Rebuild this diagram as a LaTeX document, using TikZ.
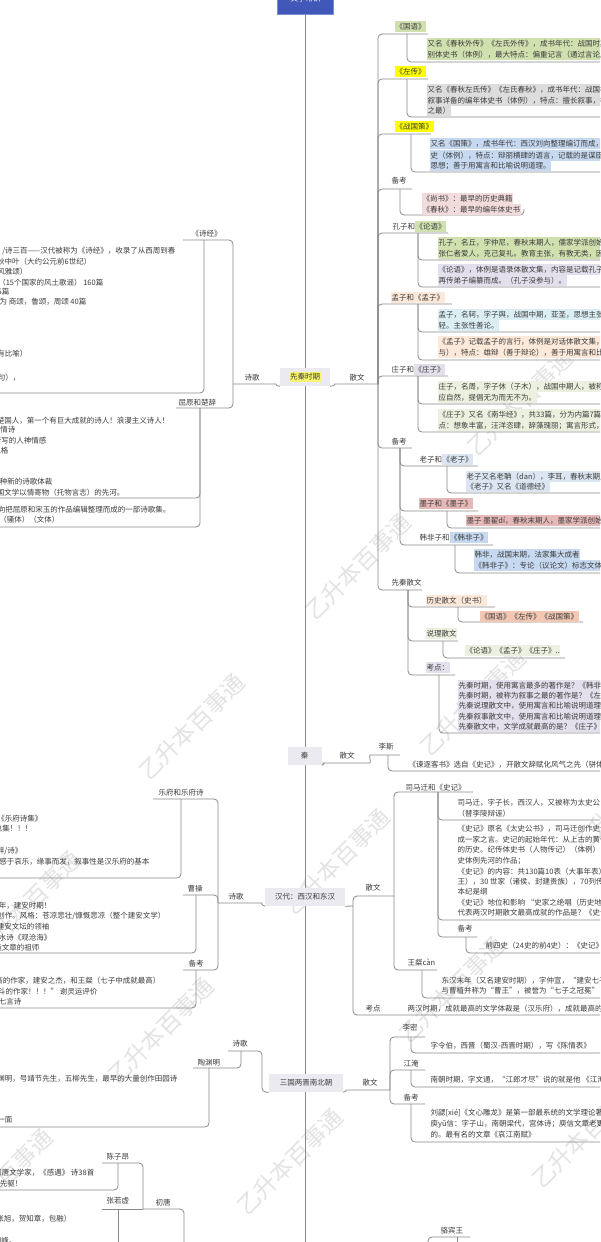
\documentclass[tikz,border=0pt]{standalone}
\usepackage{fontspec}
\setmainfont{Noto Sans CJK SC}
\definecolor{lc}{RGB}{138,138,138}
\definecolor{tc}{RGB}{60,60,60}
\definecolor{topicbg}{RGB}{234,234,240}
\definecolor{rootbg}{RGB}{66,88,184}
\definecolor{rootbd}{RGB}{120,140,215}
\definecolor{cGr}{RGB}{208,224,175}
\definecolor{cGy}{RGB}{221,221,221}
\definecolor{cBl}{RGB}{198,217,241}
\definecolor{cPk}{RGB}{242,220,219}
\definecolor{cLv}{RGB}{228,223,236}
\definecolor{cSk}{RGB}{219,238,244}
\definecolor{cPe}{RGB}{253,233,217}
\definecolor{cOl}{RGB}{235,241,222}
\definecolor{cLb}{RGB}{220,230,242}
\definecolor{cRo}{RGB}{230,185,184}
\definecolor{cSa}{RGB}{242,200,180}
\definecolor{hlY}{RGB}{255,255,0}
\definecolor{hlS}{RGB}{250,245,110}
\newcounter{lnc}
\newcommand\hl[2]{{\setlength{\fboxsep}{0.5pt}\colorbox{#1}{\vrule width0pt height7.5pt depth2.3pt\relax #2}}}
\newcommand\LW[4]{\stepcounter{lnc}\edef\lnname{w\arabic{lnc}}\node[tx,fill=#1,anchor=base west,name=\lnname] at (#2,#3+3) {#4};}
\newcommand\LE[4]{\stepcounter{lnc}\edef\lnname{e\arabic{lnc}}\node[tx,fill=#1,anchor=base east,name=\lnname] at (#2,#3+3) {#4};}
\newcommand\LB[5]{\node[tx,fill=#2,anchor=base west] (#1) at (#3,#4+3) {#5};}
\begin{document}
\begin{tikzpicture}[x=1pt,y=-1pt,
  font=\fontsize{7.5pt}{10pt}\selectfont,
  tx/.style={text=tc,inner xsep=0.5pt,inner ysep=0.5pt,text height=7.5pt,text depth=2.3pt},
  conn/.style={draw=lc,line width=0.8pt,rounded corners=4pt},
  topic/.style={fill=topicbg,text=tc,minimum height=18pt,inner sep=0pt},
  wm/.style={text=black!11,font=\fontsize{23pt}{23pt}\selectfont,rotate=45,inner sep=0pt}]
\useasboundingbox (0,0) rectangle (600,1242);
\clip (0,0) rectangle (600,1242);
\fill[white] (0,0) rectangle (600,1242);
% watermarks
\foreach \wx/\wy [count=\i] in {520/403, 358/567, 473/703, 192/727, 337/862, 28/904, 625/800, 452/990, 161/1031, 290/1162, 0/1182, 585/1135}
  \node[wm] (wm\i) at (\wx,\wy) {乙升本百事通};
% root and spine
\node[fill=rootbg,draw=rootbd,line width=0.6pt,minimum width=56pt,minimum height=15pt,inner sep=0pt] (root) at (305.5,7) {};
\node[text=white,inner sep=0pt] (roott) at (305.5,-1) {文学常识};
\draw[conn] (root.south) -- (305.5,1250);
% topics
\node[topic,minimum width=50pt] (xq) at (305,377) {\hl{hlS}{先秦时期}};
\node[topic,minimum width=34pt] (qin) at (304.5,756) {秦};
\node[topic,minimum width=80pt] (han) at (305,897) {汉代：西汉和东汉};
\node[topic,minimum width=74pt] (sg) at (306,1083) {三国两晋南北朝};

% ===== 先秦 right: 散文 =====
\LB{xqsw}{none}{349}{377}{散文}
\coordinate (sw1) at (378,384);
\draw[conn] (xq.south east) to[out=0,in=180] (339,384) -- (sw1);
\foreach \yy/\xe in {34/428, 79/428, 134/431, 189/412, 233/448, 304/452, 376/448, 448/412, 590/422}
  \draw[conn] (sw1) -- (378,\yy) -- (\xe,\yy);
\LB{gy}{cGr}{395}{26}{《国语》}
\LB{zz}{hlY}{395}{71}{《左传》}
\LB{zgc}{hlY}{395}{126}{《战国策》}
\LB{bk1}{none}{391}{180}{备考}
\LB{kz}{none}{392}{226}{孔子和\hl{cGr}{《论语》}}
\LB{mz}{cPe}{391}{297}{孟子和《孟子》}
\LB{zhz}{none}{391}{369}{庄子和\hl{cLv}{《庄子》}}
\LB{bk2}{none}{391}{441}{备考}
\LB{xqsw2}{none}{391}{582}{先秦散文}
% contents
\draw[conn] (407,34) -- (407,62) -- (600,62);
\draw[conn] (407,79) -- (407,117) -- (600,117);
\draw[conn] (411,134) -- (411,172) -- (600,172);
\draw[conn] (400,189) -- (400,215) -- (524,215) -- (524,209);
\draw[conn] (418,233) -- (418,260) -- (600,260);
\draw[conn] (418,233) -- (418,287) -- (600,287);
\draw[conn] (418,304) -- (418,332) -- (600,332);
\draw[conn] (418,304) -- (418,360) -- (600,360);
\draw[conn] (418,376) -- (418,404) -- (600,404);
\draw[conn] (418,376) -- (418,432) -- (600,432);
\LW{cGr}{427}{43}{又名《春秋外传》《左氏外传》，成书年代：战国时期}
\LW{cGr}{427}{54}{别体史书（体例），最大特点：偏重记言（通过言论反映}
\LW{cGy}{427}{89}{又名《春秋左氏传》《左氏春秋》，成书年代：战国初期}
\LW{cGy}{427}{100}{叙事详备的编年体史书（体例），特点：擅长叙事，被誉为}
\LW{cGy}{427}{110}{之最）}
\LW{cBl}{430}{143}{又名《国策》，成书年代：西汉刘向整理编订而成，国别体}
\LW{cBl}{430}{155}{史（体例），特点：辩丽横肆的语言，记载的是谋臣策士的}
\LW{cBl}{430}{165}{思想；善于用寓言和比喻说明道理。}
\LW{cPk}{422}{198}{《尚书》：最早的历史典籍}
\LW{cPk}{422}{209}{《春秋》：最早的编年体史书}
\LW{cGr}{438}{242}{孔子，名丘，字仲尼，春秋末期人，儒家学派创始人，思想主}
\LW{cGr}{438}{253}{张仁者爱人，克己复礼。教育主张，有教无类，因材施教}
\LW{cLv}{438}{269}{《论语》，体例是语录体散文集，内容是记载孔子及其弟子}
\LW{cLv}{438}{280}{再传弟子编纂而成。（孔子没参与）。}
\LW{cSk}{438}{314}{孟子，名轲，字子舆，战国中期，亚圣，思想主张民贵君}
\LW{cSk}{438}{325}{轻。主张性善论。}
\LW{cPe}{438}{341}{《孟子》记载孟子的言行，体例是对话体散文集，（孟子参}
\LW{cPe}{438}{352}{与），特点：雄辩（善于辩论），善于用寓言和比喻说理}
\LW{cOl}{438}{386}{庄子，名周，字子休（子木），战国中期人，被称为南华真人}
\LW{cOl}{438}{397}{应自然，提倡无为而无不为。}
\LW{cOl}{438}{414}{《庄子》又名《南华经》，共33篇，分为内篇7篇，外篇}
\LW{cOl}{438}{425}{点：想象丰富，汪洋恣肆，辞藻瑰丽；寓言形式，浪漫}
% 备考 (2)
\draw[conn] (400,448) -- (400,466) -- (478,466);
\draw[conn] (400,448) -- (400,511) -- (478,511);
\draw[conn] (400,448) -- (400,545) -- (493,545);
\LB{lz}{none}{419}{459}{老子和\hl{cLb}{《老子》}}
\LB{moz}{cRo}{419}{503}{墨子和《墨子》}
\LB{hfz}{none}{419}{537}{韩非子和\hl{cBl}{《韩非子》}}
\draw[conn] (447,466) -- (447,493) -- (600,493);
\draw[conn] (447,511) -- (447,528) -- (600,528);
\draw[conn] (455,545) -- (455,573) -- (600,573);
\LW{cLb}{466}{476}{老子又名老聃（dan），李耳，春秋末期人，道家}
\LW{cLb}{466}{486}{《老子》又名《道德经》}
\LW{cRo}{466}{520}{墨子 墨翟dí，春秋末期人，墨家学派创始人}
\LW{cBl}{474}{554}{韩非，战国末期，法家集大成者}
\LW{cBl}{474}{565}{《韩非子》：专论（议论文）标志文体的成熟}
% 先秦散文
\draw[conn] (408,590) -- (408,607) -- (495,607);
\draw[conn] (408,590) -- (408,641) -- (458,641);
\draw[conn] (408,590) -- (408,675) -- (455,675);
\LB{lssw}{cPe}{426}{600}{历史散文（史书）}
\LB{slsw}{cOl}{426}{633}{说理散文}
\LB{kd1}{cLv}{426}{667}{考点：}
\draw[conn] (458,607) -- (458,622) -- (583,622);
\draw[conn] (443,641) -- (443,658) -- (565,658);
\draw[conn] (439,675) -- (439,733) -- (600,733);
\LW{cSa}{480}{616}{《国语》《左传》《战国策》}
\LW{cOl}{465}{650}{《论语》《孟子》《庄子》..}
\LW{cLv}{458}{685}{先秦时期，使用寓言最多的著作是？《韩非子》}
\LW{cLv}{458}{695}{先秦时期，被称为叙事之最的著作是？《左传》}
\LW{cLv}{458}{705}{先秦说理散文中，使用寓言和比喻说明道理的}
\LW{cLv}{458}{716}{先秦叙事散文中，使用寓言和比喻说明道理的}
\LW{cLv}{458}{726}{先秦散文中，文学成就最高的是？《庄子》}

% ===== 先秦 left: 诗歌 =====
\LB{xqsg}{none}{244}{377}{诗歌}
\coordinate (sw2) at (233,384);
\draw[conn] (xq.south west) to[out=180,in=0] (272,384) -- (sw2);
\draw[conn] (sw2) -- (233,240) -- (183,240);
\draw[conn] (sw2) -- (233,408) -- (176,408);
\LB{sj}{none}{191}{233}{《诗经》}
\LB{qy}{none}{178}{402}{屈原和楚辞}
\draw[conn] (204,240) -- (204,393) -- (-10,393);
\draw[conn] (200,408) -- (200,498) -- (-10,498);
\draw[conn] (200,408) -- (200,527) -- (-10,527);
\LE{none}{176}{250}{《诗》/诗三百——汉代被称为《诗经》，收录了从西周到春}
\LE{none}{92}{261}{春秋中叶（大约公元前6世纪）}
\LE{none}{28}{271}{（风雅颂）}
\LE{none}{104}{282}{国风（15个国家的风土歌谣） 160篇}
\LE{none}{10}{291}{雅 105篇}
\LE{none}{87}{301}{颂分为 商颂，鲁颂，周颂  40篇}
\LE{none}{28}{353}{（比：有比喻）}
\LE{none}{21}{377}{（四言句），}
\LE{none}{170}{420}{屈原，战国时期楚国人，第一个有巨大成就的诗人！浪漫主义诗人！}
\LE{none}{16}{429}{抒情诗}
\LE{none}{47}{440}{所写的人神情感}
\LE{none}{9}{450}{风格}
\LE{none}{53}{481}{一种新的诗歌体裁}
\LE{none}{125}{492}{开创中国文学以情寄物（托物言志）的先河。}
\LE{none}{171}{509}{西汉刘向把屈原和宋玉的作品编辑整理而成的一部诗歌集。}
\LE{none}{60}{519}{楚辞体（骚体）（文体）}

% ===== 秦 =====
\LB{qsw}{none}{339}{755}{散文}
\LB{ls}{none}{378}{746}{李斯}
\draw[conn] (qin.south east) to[out=0,in=180] (327,763) -- (366,763) .. controls (371,763) and (369,755) .. (374,755) -- (400,755);
\draw[conn] (388,755) -- (388,771) -- (600,771);
\LW{none}{408}{764}{《谏逐客书》选自《史记》，开散文辞赋化风气之先（骈体文}

% ===== 汉 right =====
\draw[conn] (han.south east) -- (353,906);
\draw[conn] (353,906) -- (353,896) -- (394,896);
\draw[conn] (353,906) -- (353,1015) -- (600,1015);
\LB{hsw}{none}{365}{887}{散文}
\LB{hkd}{none}{365}{1008}{考点}
\LW{none}{407}{1008}{两汉时期，成就最高的文学体裁是（汉乐府），成就最高的散文}
\draw[conn] (394,896) -- (394,792) -- (473,792);
\draw[conn] (394,896) -- (394,970) -- (437,970);
\LB{smq}{none}{405}{787}{司马迁和《史记》}
\LB{wc}{none}{407}{962}{王粲càn}
\draw[conn] (438,792) -- (438,820) -- (600,820);
\draw[conn] (438,792) -- (438,920) -- (600,920);
\draw[conn] (438,792) -- (438,937) -- (477,937);
\LB{bk3}{none}{457}{928}{备考}
\draw[conn] (466,937) -- (466,953) -- (600,953);
\draw[conn] (422,970) -- (422,998) -- (600,998);
\LW{none}{457}{802}{司马迁，字子长，西汉人，又被称为太史公，受宫刑}
\LW{none}{457}{813}{（替李陵辩诬）}
\LW{none}{457}{828}{《史记》原名《太史公书》，司马迁创作史记是为了}
\LW{none}{457}{839}{成一家之言。史记的起始年代：从上古的黄帝到汉武帝}
\LW{none}{457}{849}{的历史。纪传体史书（人物传记）（体例），开创纪传体}
\LW{none}{457}{860}{史体例先河的作品；}
\LW{none}{457}{871}{《史记》的内容：共130篇10表（大事年表），12本纪（帝}
\LW{none}{457}{881}{王），30 世家（诸侯、封建贵族），70列传（人物）}
\LW{none}{457}{891}{本纪是纲}
\LW{none}{457}{902}{《史记》地位和影响 “史家之绝唱（历史地位）}
\LW{none}{457}{912}{代表两汉时期散文最高成就的作品是？《史记》}
\LW{none}{485}{945}{前四史（24史的前4史）：《史记》《汉书》}
\LW{none}{441}{980}{东汉末年（又名建安时期），字仲宣，“建安七子”之一}
\LW{none}{441}{990}{与曹植并称为“曹王”，被誉为“七子之冠冕”}

% ===== 汉 left =====
\LB{hsg}{none}{228}{896}{诗歌}
\draw[conn] (han.south west) to[out=180,in=0] (258,903) -- (218,903);
\draw[conn] (218,903) -- (218,799) -- (153,799);
\draw[conn] (218,903) -- (218,895) -- (183,895);
\draw[conn] (218,903) -- (218,970) -- (183,970);
\LB{yf}{none}{158}{792}{乐府和乐府诗}
\LB{cc}{none}{187}{888}{曹操}
\LB{bk4}{none}{188}{963}{备考}
\draw[conn] (181,799) -- (181,878) -- (-10,878);
\draw[conn] (196,895) -- (196,953) -- (-10,953);
\draw[conn] (196,970) -- (196,1008) -- (-10,1008);
\LE{none}{43}{818}{郭茂倩编的《乐府诗集》}
\LE{none}{33}{828}{是乐府诗总集！！！}
\LE{none}{23}{850}{汉乐府辞/诗》}
\LE{none}{150}{861}{汉乐府的特点：感于哀乐，缘事而发，叙事性是汉乐府的基本}
\LE{none}{52}{905}{东汉末年，建安时期！}
\LE{none}{166}{915}{以乐府旧题进行创作。风格：苍凉悲壮/慷慨悲凉（整个建安文学）}
\LE{none}{50}{926}{被誉为建安文坛的领袖}
\LE{none}{52}{937}{第一首完整的山水诗《观沧海》}
\LE{none}{40}{947}{改造文章的祖师}
\LE{none}{161}{980}{曹植，建安时期成就最高的作家，建安之杰，和王粲（七子中成就最高）}
\LE{none}{98}{991}{“天下才共一石，曹子建独占八斗的作家！！！” 谢灵运评价}
\LE{none}{22}{1001}{曹丕《燕歌行》第一首完整的七言诗}

% ===== 三国两晋南北朝 right =====
\LB{ssw}{none}{362}{1082}{散文}
\draw[conn] (sg.south east) to[out=0,in=180] (350,1090) -- (390,1090);
\draw[conn] (390,1090) -- (390,1037) -- (425,1037);
\draw[conn] (390,1090) -- (390,1070) -- (425,1070);
\draw[conn] (390,1090) -- (390,1104) -- (425,1104);
\LB{lm}{none}{402}{1027}{李密}
\LB{jy}{none}{403}{1063}{江淹}
\LB{bk5}{none}{403}{1097}{备考}
\draw[conn] (411,1037) -- (411,1053) -- (600,1053);
\draw[conn] (411,1070) -- (411,1087) -- (600,1087);
\draw[conn] (411,1104) -- (411,1142) -- (600,1142);
\LW{none}{430}{1045}{字令伯，西晋（蜀汉-西晋时期），写《陈情表》}
\LW{none}{430}{1079}{南朝时期，字文通，“江郎才尽”说的就是他 《江淹梦笔》}
\LW{none}{430}{1112}{刘勰[xié]《文心雕龙》是第一部最系统的文学理论著作}
\LW{none}{430}{1123}{庾yǔ信：字子山，南朝梁代，宫体诗；庾信文章老更成}
\LW{none}{430}{1134}{的。最有名的文章《哀江南赋》}

% ===== 三国 left =====
\LB{ssg}{none}{232}{1043}{诗歌}
\draw[conn] (sg.south west) -- (262,1092) -- (262,1051) -- (228,1051);
\draw[conn] (241,1051) -- (241,1068) -- (193,1068);
\LB{tym}{none}{197}{1062}{陶渊明}
\draw[conn] (209,1068) -- (209,1127) -- (-10,1127);
\LE{none}{178}{1078}{陶渊明，东晋，名潜，字渊明，号靖节先生，五柳先生，最早的大量创作田园诗}
\LE{none}{13}{1119}{一面}

% ===== 初唐 =====
\LB{ct}{none}{155}{1202}{初唐}
\LB{czy}{none}{106}{1156}{陈子昂}
\LB{zrx}{none}{106}{1200}{张若虚}
\draw[conn] (184,1250) -- (184,1209) -- (143,1209);
\draw[conn] (143,1209) -- (143,1163) -- (102,1163);
\draw[conn] (143,1209) -- (102,1209);
\draw[conn] (118,1163) -- (118,1190) -- (-10,1190);
\draw[conn] (118,1209) -- (118,1250);
\LE{none}{95}{1172}{陈子昂，初唐文学家，《感遇》 诗38首}
\LE{none}{23}{1183}{唐诗革新的先驱！}
\LE{none}{72}{1218}{吴中四士（张若虚，张旭，贺知章，包融）}
\LE{none}{17}{1240}{顶峰上的顶峰。}
\LB{lbw}{none}{440}{1230}{骆宾王}
\draw[conn] (470,1237) -- (428,1237) -- (428,1250);
\draw[conn] (457,1237) -- (457,1250);
\end{tikzpicture}
\end{document}
